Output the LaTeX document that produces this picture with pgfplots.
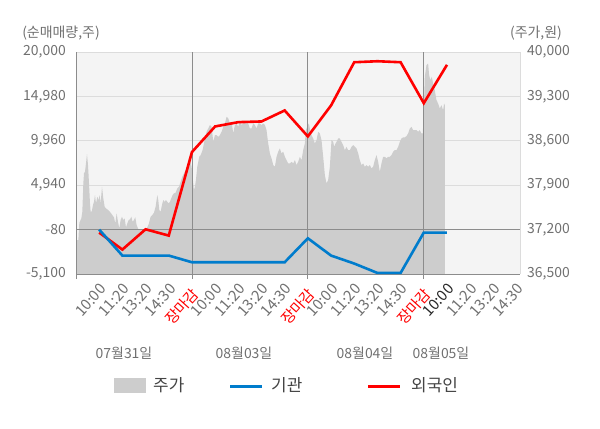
\documentclass[border=0pt]{standalone}
\usepackage{fontspec}
\setmainfont{Noto Sans CJK KR}
\usepackage{pgfplots}
\pgfplotsset{compat=1.18}
\definecolor{bggray}{RGB}{244,244,244}
\definecolor{gridgray}{RGB}{220,220,220}
\definecolor{areagray}{RGB}{205,205,205}
\definecolor{axisgray}{RGB}{140,140,140}
\definecolor{lblgray}{RGB}{112,112,112}
\definecolor{instblue}{RGB}{0,124,204}
\definecolor{frgred}{RGB}{255,0,0}
\definecolor{legtext}{RGB}{68,68,68}
\begin{document}
\begin{tikzpicture}[x=1bp,y=1bp]
\useasboundingbox (0,0) rectangle (600,428);
% price area (right axis)
\begin{axis}[at={(76bp,154bp)}, anchor=south west, width=444bp, height=222bp, scale only axis,
  xmin=0, xmax=19.15, ymin=36500, ymax=40000,
  axis x line=none, axis y line*=right,
  scaled y ticks=false,
  y axis line style={color=gridgray, line width=0.8bp},
  axis background/.style={fill=bggray},
  ytick={36500,37200,37900,38600,39300,40000},
  yticklabels={{36,500},{37,200},{37,900},{38,600},{39,300},{40,000}},
  ymajorgrids, major grid style={color=gridgray, line width=0.8bp},
  major tick length=0pt,
  yticklabel style={font=\fontsize{14}{14}\selectfont, color=lblgray, anchor=west, inner sep=0pt, xshift=7bp},
  /pgf/number format/assume math mode=true]
\addplot[fill=areagray, draw=none] coordinates {
(0.000,37235) (0.043,37036) (0.101,37036) (0.144,37308) (0.230,37377) (0.273,37482) (0.316,37928) (0.345,38086) (0.388,38112) (0.431,38243) (0.474,38390) (0.517,38217) (0.546,38033) (0.575,37823) (0.603,37613) (0.632,37482) (0.675,37482) (0.733,37587) (0.776,37639) (0.819,37744) (0.862,37613) (0.920,37718) (0.977,37666) (1.020,37744) (1.063,37613) (1.121,37875) (1.178,37692) (1.236,37560) (1.293,37534) (1.351,37519) (1.422,37497) (1.494,37466) (1.566,37429) (1.638,37393) (1.695,37298) (1.753,37456) (1.810,37324) (1.868,37219) (1.925,37351) (1.983,37403) (2.040,37351) (2.098,37377) (2.155,37235) (2.213,37298) (2.270,37351) (2.328,37361) (2.385,37403) (2.443,37324) (2.500,37351) (2.557,37393) (2.615,37272) (2.672,37219) (2.730,37193) (2.787,37204) (2.859,37182) (2.931,37182) (3.003,37204) (3.075,37235) (3.147,37298) (3.218,37403) (3.290,37429) (3.362,37466) (3.434,37560) (3.506,37744) (3.549,37666) (3.592,37508) (3.649,37482) (3.707,37587) (3.764,37666) (3.822,37639) (3.879,37666) (3.937,37639) (3.994,37613) (4.052,37639) (4.109,37692) (4.167,37744) (4.224,37770) (4.296,37781) (4.368,37849) (4.440,37875) (4.511,37954) (4.583,38033) (4.655,38086) (4.727,38138) (4.799,38190) (4.871,38322) (4.914,38296)
(4.986,38190) (5.029,38033) (5.086,37823) (5.129,37875) (5.172,37981) (5.230,38190) (5.316,38348) (5.374,38374) (5.460,38453) (5.517,38558) (5.560,38637) (5.632,38742) (5.704,38794) (5.776,38847) (5.848,38820) (5.920,38584) (5.991,38689) (6.063,38689) (6.135,38663) (6.207,38689) (6.279,38742) (6.351,38820) (6.422,38873) (6.494,38978) (6.566,38952) (6.638,38873) (6.710,38899) (6.782,38716) (6.853,38847) (6.925,38873) (6.997,38820) (7.069,38926) (7.141,38847) (7.213,38873) (7.284,38873) (7.356,38899) (7.428,38873) (7.500,38794) (7.572,38794) (7.644,38873) (7.716,38847) (7.787,38794) (7.859,38873) (7.931,38873) (8.003,38847) (8.075,38873) (8.147,38847) (8.218,38768) (8.290,38558) (8.362,38401) (8.434,38322) (8.506,38217) (8.578,38190) (8.649,38348) (8.721,38427) (8.793,38479) (8.865,38401) (8.937,38427) (9.009,38348) (9.080,38296) (9.152,38243) (9.224,38243) (9.296,38269) (9.368,38243) (9.440,38296) (9.511,38217) (9.583,38269)
(9.655,38348) (9.727,38296) (9.799,38453) (9.871,38558) (9.914,38768) (9.971,38820) (10.043,38873) (10.086,38794) (10.158,38689) (10.230,38637) (10.302,38558) (10.374,38611) (10.445,38742) (10.517,38716) (10.589,38611) (10.661,38348) (10.733,38059) (10.805,37928) (10.876,37981) (10.948,38190) (11.020,38611) (11.092,38584) (11.135,38505) (11.193,38558) (11.236,38584) (11.307,38637) (11.379,38637) (11.451,38584) (11.523,38532) (11.595,38453) (11.667,38505) (11.739,38453) (11.810,38453) (11.882,38505) (11.954,38532) (12.026,38505) (12.098,38479) (12.170,38401) (12.241,38296) (12.313,38217) (12.385,38243) (12.457,38190) (12.529,38217) (12.601,38190) (12.672,38217) (12.744,38164) (12.816,38190) (12.888,38296) (12.960,38374) (13.032,38269) (13.103,38112) (13.175,38243) (13.247,38348) (13.319,38348) (13.391,38322) (13.463,38348) (13.534,38348) (13.606,38374) (13.678,38427) (13.750,38453) (13.822,38453) (13.894,38505) (13.966,38584) (14.037,38637) (14.109,38653) (14.181,38653) (14.253,38674) (14.325,38716) (14.397,38794) (14.468,38820) (14.540,38768) (14.612,38768) (14.684,38768) (14.756,38742) (14.828,38768) (14.899,38716) (14.957,38716) (15.000,39083) (15.043,39608) (15.115,39792) (15.187,39818) (15.230,39634) (15.287,39556) (15.345,39608) (15.402,39503) (15.474,39398) (15.546,39241) (15.618,39188) (15.690,39109) (15.761,39162) (15.833,39083) (15.876,39188) (15.905,39162)
} \closedcycle;
\end{axis}
% net buying lines (left axis)
\begin{axis}[at={(76bp,154bp)}, anchor=south west, width=444bp, height=222bp, scale only axis,
  xmin=0, xmax=19.15, ymin=-5100, ymax=20000,
  axis x line*=bottom, axis y line*=left,
  scaled y ticks=false, scaled x ticks=false,
  axis line style={color=axisgray, line width=0.8bp},
  ytick={-5100,-80,4940,9960,14980,20000},
  yticklabels={{-5,100},{-80},{4,940},{9,960},{14,980},{20,000}},
  extra y ticks={-80}, extra y tick labels={},
  extra y tick style={grid=major, major grid style={color=axisgray, line width=0.8bp}},
  xtick={1,2,3,4,6,7,8,9,11,12,13,14,16,17,18,19},
  xticklabels={10:00,11:20,13:20,14:30,10:00,11:20,13:20,14:30,10:00,11:20,13:20,14:30,\textcolor{black!85}{10:00},11:20,13:20,14:30},
  extra x ticks={0,5,10,15}, extra x tick labels={,장마감,장마감,장마감},
  extra x tick style={grid=major, major grid style={color=axisgray, line width=0.8bp}, major tick length=5bp, tick style={color=axisgray, line width=0.8bp}, xticklabel style={color=frgred}},
  major tick length=0pt, tick align=outside,
  yticklabel style={font=\fontsize{14}{14}\selectfont, color=lblgray, anchor=east, inner sep=0pt, xshift=-10bp},
  xticklabel style={font=\fontsize{15}{15}\selectfont, color=lblgray, inner sep=0pt, xshift=4bp, yshift=-12bp, rotate=48, anchor=east},
  /pgf/number format/assume math mode=true]
\addplot[color=frgred, line width=2.6bp] coordinates {
(1,-419) (2,-2338) (3,-46) (4,-757) (5,8681) (6,11583) (7,12068) (8,12147) (9,13389) (10,10454) (11,13953) (12,18842) (13,18955) (14,18842) (15,14213) (16,18549)};
\addplot[color=instblue, line width=2.6bp] coordinates {
(1,-80) (2,-3015) (3,-3015) (4,-3015) (5,-3772) (6,-3772) (7,-3772) (8,-3772) (9,-3772) (10,-1062) (11,-3015) (12,-3919) (13,-4980) (14,-4980) (15,-419) (16,-419)};
\end{axis}
% axis titles
\node[font=\fontsize{14}{14}\selectfont, color=lblgray] at (61,395) {(순매매량,주)};
\node[font=\fontsize{14}{14}\selectfont, color=lblgray] at (536,395) {(주가,원)};
% dates
\node[font=\fontsize{14}{14}\selectfont, color=lblgray] at (124,75) {07월31일};
\node[font=\fontsize{14}{14}\selectfont, color=lblgray] at (244,75) {08월03일};
\node[font=\fontsize{14}{14}\selectfont, color=lblgray] at (365,75) {08월04일};
\node[font=\fontsize{14}{14}\selectfont, color=lblgray] at (441,75) {08월05일};
% legend
\fill[areagray] (114,35) rectangle (146,50);
\node[font=\fontsize{17}{17}\selectfont, color=legtext, anchor=west, inner sep=0pt] at (153,43) {주가};
\draw[instblue, line width=3bp] (230,42) -- (262,42);
\node[font=\fontsize{17}{17}\selectfont, color=legtext, anchor=west, inner sep=0pt] at (271,43) {기관};
\draw[frgred, line width=3bp] (368,42) -- (400,42);
\node[font=\fontsize{17}{17}\selectfont, color=legtext, anchor=west, inner sep=0pt] at (411,43) {외국인};
\end{tikzpicture}
\end{document}
